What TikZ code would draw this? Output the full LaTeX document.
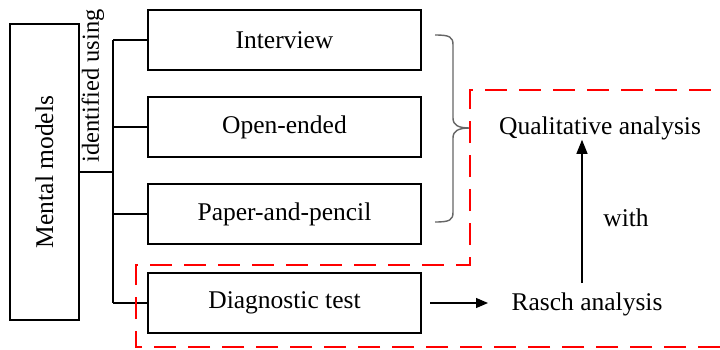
\documentclass[tikz,border=0pt]{standalone}
\usepackage{fontspec}
\setmainfont{Liberation Serif}
\usetikzlibrary{arrows.meta}
\begin{document}
\begin{tikzpicture}[x=1pt,y=-1pt,
  box/.style={draw,line width=2pt,minimum width=273pt,minimum height=60pt,inner sep=0pt,font=\rmfamily\fontsize{25.5}{28}\selectfont},
  txt/.style={inner sep=0pt,font=\rmfamily\fontsize{25.5}{28}\selectfont},
  conn/.style={line width=2pt},
  reddash/.style={draw=red,line width=2.8pt,dash pattern=on 22pt off 12pt}]
\useasboundingbox (0,0) rectangle (720,349);
\node[draw,line width=2pt,minimum width=69pt,minimum height=296pt,inner sep=0pt] (mm) at (44.5,172) {};
\node[txt,rotate=90] (mmt) at (44.5,172) {Mental models};
\node[txt,rotate=90,font=\rmfamily\fontsize{24.5}{28}\selectfont] (idu) at (93,86) {identified using};
\node[box] (iv) at (284.5,40) {Interview};
\node[box] (oe) at (284.5,127) {Open-ended};
\node[box] (pp) at (284.5,214) {Paper-and-pencil};
\node[box] (dt) at (284.5,303) {Diagnostic test};
\node[txt] (qa) at (600,128) {Qualitative analysis};
\node[txt] (ra) at (587,304) {Rasch analysis};
\node[txt] (w) at (626,218) {with};
\coordinate (j) at (113,172);
\coordinate (jt) at (113,40);
\coordinate (jb) at (113,303);
\draw[line width=2.5pt] (mm.east) -- (j);
\draw[conn] (jt) -- (jb);
\draw[conn] (jt) -- (iv.west);
\draw[conn] (oe.west -| jt) -- (oe.west);
\draw[conn] (pp.west -| jt) -- (pp.west);
\draw[conn] (jb) -- (dt.west);
\draw[gray!80!black,line width=1.4pt] (435,35) .. controls (450,35) and (453,37) .. (453,45) -- (453,118) .. controls (453,125) and (458,128) .. (470,128) .. controls (458,128) and (453,131) .. (453,138) -- (453,212) .. controls (453,220) and (450,222) .. (435,222);
\coordinate (a1) at (430,303);
\coordinate (a1e) at (488,303);
\draw[line width=1.2pt,-{Triangle[length=12pt,width=10pt]}] (a1) -- (a1e);
\coordinate (a2) at (582,283);
\draw[line width=1.2pt,-{Triangle[length=14pt,width=11pt]}] (a2) -- (qa.south -| a2);
\draw[reddash] (720,347) -- (136,347) -- (136,265) -- (470,265) -- (470,90) -- (720,90);
\end{tikzpicture}
\end{document}
